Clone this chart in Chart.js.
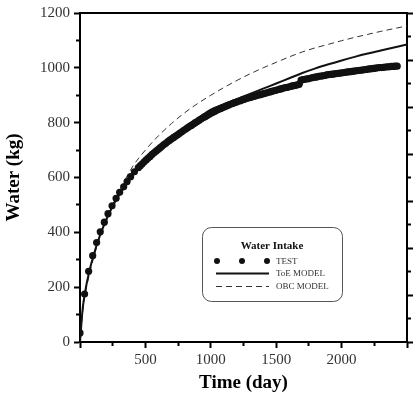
<!DOCTYPE html>
<html>
<head>
<meta charset="utf-8">
<script src="https://cdn.jsdelivr.net/npm/chart.js@4.4.1/dist/chart.umd.min.js"></script>
<style>
  html, body { margin: 0; padding: 0; background: #ffffff; }
  #wrap { width: 419px; height: 394px; position: relative; }
</style>
</head>
<body>
<div id="wrap"><canvas id="c"></canvas></div>
<script>
// ---- data ----
const testDays = [0,35,66,97,127,155,186,214,245,276,303,334,360,387,416,
  446,461,476,491,506,521,536,551,566,581,596,611,626,641,656,671,686,701,716,731,746,761,776,791,806,821,836,851,866,881,896,911,926,941,956,971,986,
  1001,1016,1031,1046,1061,1076,1091,1106,1121,1136,1151,1166,1181,1196,1211,1226,1241,1256,1271,1286,1301,1316,1331,1346,1361,1376,1391,1406,1421,1436,1451,1466,1481,1496,
  1511,1526,1541,1556,1571,1586,1601,1616,1631,1646,1661,1676,
  1690,1705,1720,1735,1750,1765,1780,1795,1810,1825,1840,1855,1870,1885,1900,1915,1930,1945,1960,1975,1990,
  2005,2020,2035,2050,2065,2080,2095,2110,2125,2140,2155,2170,2185,2200,2215,2230,2245,2260,2275,2290,
  2305,2320,2335,2350,2365,2380,2395,2410,2425];
const testWater = [33,175,258,315,363,402,437,468,497,524,546,566,585,603,621,
  636,643,650,657,664,671,677,684,690,696,702,708,714,720,725,731,736,741,746,751,756,761,766,771,776,781,786,790,795,800,804,809,813,818,822,826,830,
  834,838,842,845,849,852,855,858,861,864,867,870,873,875,878,880,883,885,888,890,892,894,896,898,900,902,904,906,908,910,912,914,916,918,
  920,922,924,926,928,929,931,933,935,936,938,940,
  955,957,958,960,961,963,964,966,967,969,970,971,972,974,975,976,977,978,979,980,981,
  982,983,984,985,986,987,988,989,990,991,992,993,994,995,996,997,998,999,1000,1001,
  1001,1002,1003,1004,1004,1005,1005,1006,1006];

const toeDays  = [0,20,40,70,100,150,200,250,300,400,500,600,700,800,900,1000,1100,1200,1300,1400,1500,1600,1700,1800,1900,2000,2100,2200,2300,2400,2500];
const toeWater = [0,120,185,255,310,385,445,495,537,605,658,704,745,782,815,848,867,886,905,924,943,962,981,998,1013,1027,1040,1052,1063,1074,1085];

const obcDays  = [0,25,50,100,150,200,300,400,500,600,700,800,900,1000,1100,1200,1300,1400,1500,1600,1700,1800,1900,2000,2100,2200,2300,2400,2500];
const obcWater = [0,130,200,300,380,448,550,638,700,752,797,836,870,900,928,954,978,1000,1020,1040,1058,1073,1086,1099,1111,1122,1133,1143,1153];

const xLabeled = [500,1000,1500,2000];
const yLabeled = [0,200,400,600,800,1000,1200];
const seriesLabels = ['TEST','ToE MODEL','OBC MODEL'];
const legendTitle = 'Water Intake';
const xTitle = 'Time (day)';
const yTitle = 'Water (kg)';

const pts = (xs, ys) => xs.map((x, i) => ({x: x, y: ys[i]}));

const SERIF = '"Liberation Serif", "DejaVu Serif", serif';

// minor/major tick styling via dash patterns (major length 5, minor 3)
function dashLeft(isMajor){ return isMajor ? [] : [0, 2, 3, 100]; }
function dashOut(isMajor){ return isMajor ? [] : [3, 100]; }

const boxLegend = {
  id: 'boxLegend',
  afterDatasetsDraw(chart) {
    const ctx = chart.ctx;
    const x0 = 202.5, y0 = 227.5, w = 140, h = 74, r = 9;
    ctx.save();
    ctx.fillStyle = '#ffffff';
    ctx.strokeStyle = '#555555';
    ctx.lineWidth = 1;
    ctx.beginPath();
    ctx.roundRect(x0, y0, w, h, r);
    ctx.fill();
    ctx.stroke();
    ctx.fillStyle = '#111111';
    ctx.font = 'bold 11px ' + SERIF;
    ctx.textAlign = 'center';
    ctx.textBaseline = 'middle';
    ctx.fillText(legendTitle, 272, 246.5);
    const rows = [261, 273.5, 286.5];
    ctx.font = '9px ' + SERIF;
    ctx.textAlign = 'left';
    chart.data.datasets.forEach((ds, i) => {
      const y = rows[i];
      if (ds.showLine === false) {
        ctx.fillStyle = ds.backgroundColor;
        [217, 242, 267].forEach(cx => {
          ctx.beginPath(); ctx.arc(cx, y, 3, 0, Math.PI * 2); ctx.fill();
        });
      } else {
        ctx.strokeStyle = ds.borderColor;
        ctx.lineWidth = ds.borderWidth;
        ctx.setLineDash(ds.borderDash || []);
        ctx.beginPath(); ctx.moveTo(216, y); ctx.lineTo(269, y); ctx.stroke();
        ctx.setLineDash([]);
      }
      ctx.fillStyle = '#333333';
      ctx.fillText(ds.label, 276, y + 0.5);
    });
    ctx.restore();
  }
};

new Chart(document.getElementById('c'), {
  type: 'scatter',
  data: {
    datasets: [
      {
        label: seriesLabels[0],
        data: pts(testDays, testWater),
        showLine: false,
        pointRadius: 3.6,
        pointHoverRadius: 3.6,
        pointBorderWidth: 0,
        backgroundColor: '#111111',
        borderColor: '#111111',
        order: 2
      },
      {
        label: seriesLabels[1],
        data: pts(toeDays, toeWater),
        showLine: true,
        pointRadius: 0,
        borderColor: '#111111',
        backgroundColor: '#111111',
        borderWidth: 2,
        cubicInterpolationMode: 'monotone',
        order: 1
      },
      {
        label: seriesLabels[2],
        data: pts(obcDays, obcWater),
        showLine: true,
        pointRadius: 0,
        borderColor: '#333333',
        backgroundColor: '#333333',
        borderWidth: 1,
        borderDash: [6, 4],
        cubicInterpolationMode: 'monotone',
        order: 3
      }
    ]
  },
  options: {
    responsive: true,
    maintainAspectRatio: false,
    animation: false,
    events: [],
    layout: { padding: 0 },
    plugins: { legend: { display: false }, tooltip: { enabled: false } },
    scales: {
      x: {
        type: 'linear', position: 'bottom', min: 0, max: 2500,
        afterFit: s => { s.height = 52; },
        border: { display: true, color: '#000000', width: 2 },
        grid: {
          drawOnChartArea: false, drawTicks: true, tickLength: 6, tickWidth: 2, tickColor: '#000000',
          tickBorderDash: c => dashOut(c.tick && c.tick.value % 500 === 0)
        },
        ticks: {
          stepSize: 250, autoSkip: false, maxRotation: 0, padding: 3,
          color: '#333333', font: { family: SERIF, size: 15 },
          callback: v => xLabeled.includes(v) ? String(v) : ''
        },
        title: { display: true, text: xTitle, color: '#000000', font: { family: SERIF, size: 19, weight: 'bold' }, padding: { top: 0, bottom: 0 } }
      },
      xTop: {
        type: 'linear', position: 'top', min: 0, max: 2500,
        afterFit: s => { s.height = 13; },
        border: { display: true, color: '#000000', width: 2 },
        grid: { display: false, drawTicks: false },
        ticks: { display: false }
      },
      y: {
        type: 'linear', position: 'left', min: 0, max: 1200,
        afterFit: s => { s.width = 80; },
        border: { display: true, color: '#000000', width: 2 },
        grid: {
          drawOnChartArea: false, drawTicks: true, tickLength: 6, tickWidth: 2, tickColor: '#000000',
          tickBorderDash: c => dashLeft(c.tick && c.tick.value % 200 === 0)
        },
        ticks: {
          stepSize: 100, autoSkip: false, padding: 4,
          color: '#333333', font: { family: SERIF, size: 15 },
          callback: v => yLabeled.includes(v) ? String(v) : ''
        },
        title: { display: true, text: yTitle, color: '#000000', font: { family: SERIF, size: 19, weight: 'bold' }, padding: { top: 3, bottom: 0 } }
      },
      yRight: {
        type: 'linear', position: 'right', min: 0, max: 1400,
        afterFit: s => { s.width = 12; },
        border: { display: true, color: '#000000', width: 2 },
        grid: {
          drawOnChartArea: false, drawTicks: true, tickLength: 6, tickWidth: 2, tickColor: '#000000',
          tickBorderDash: c => dashOut(c.tick && c.tick.value % 200 === 0)
        },
        ticks: { stepSize: 100, autoSkip: false, callback: () => '' }
      }
    }
  },
  plugins: [boxLegend]
});
</script>
</body>
</html>
